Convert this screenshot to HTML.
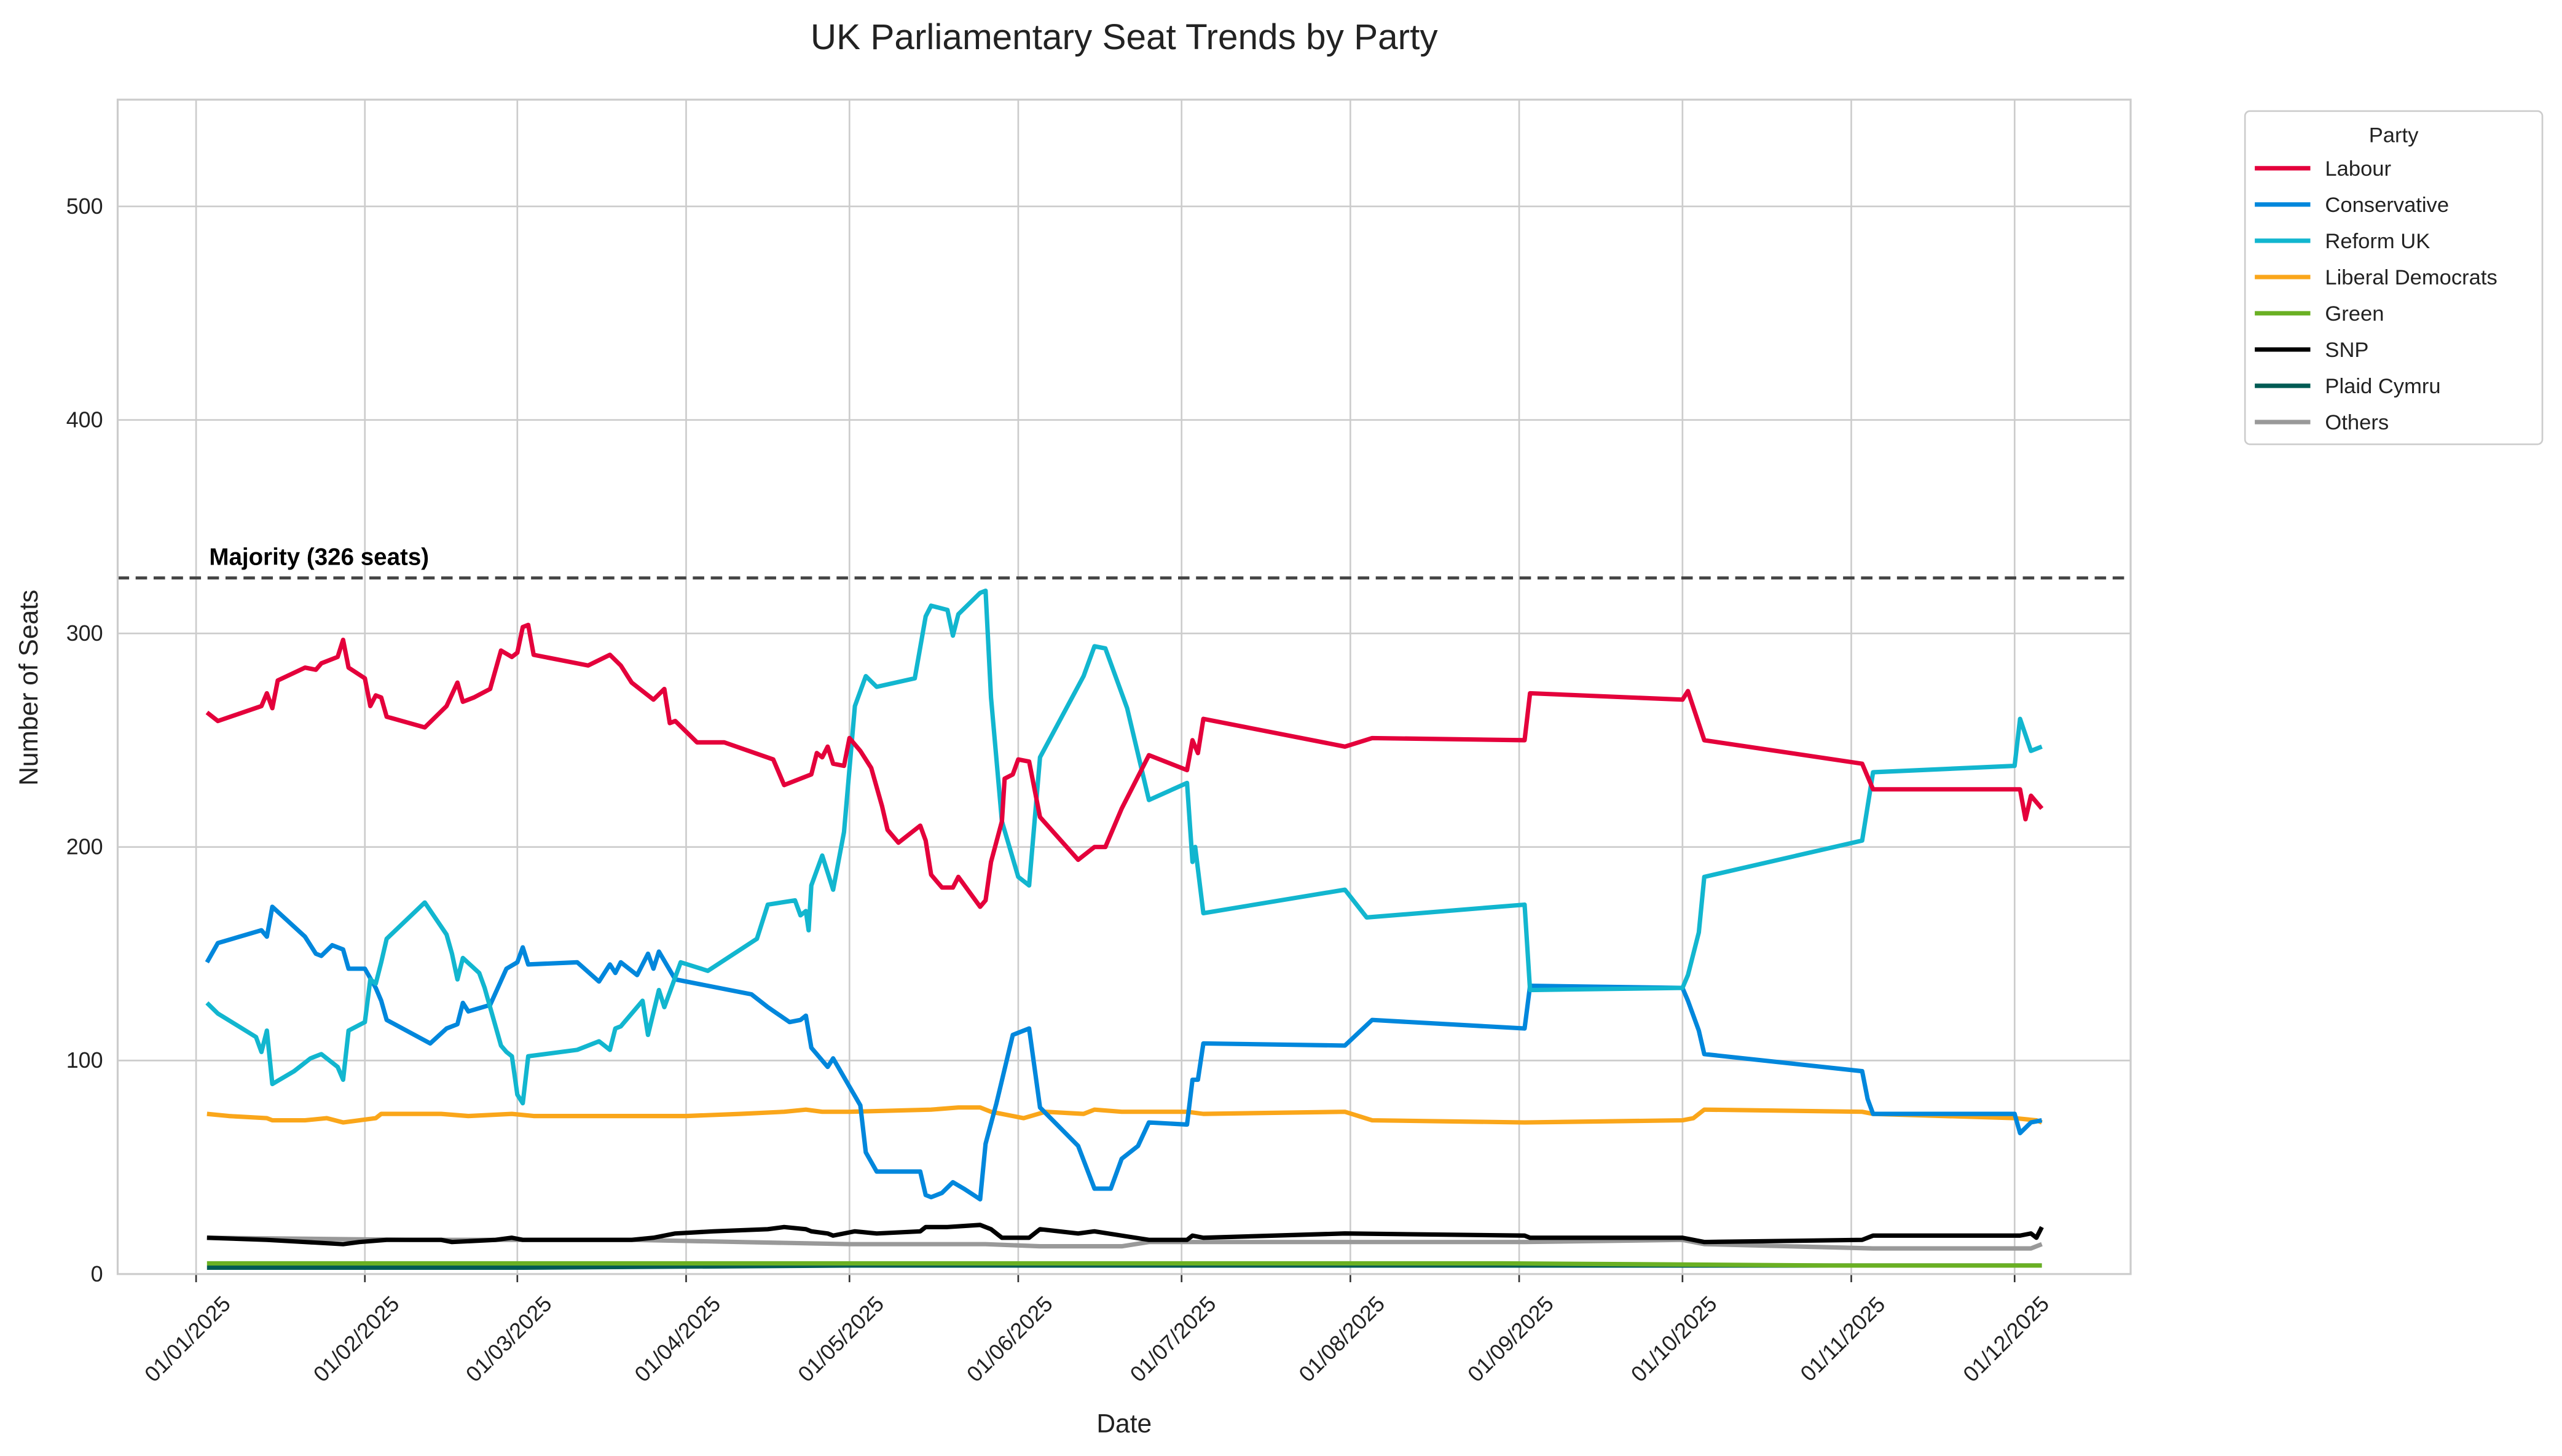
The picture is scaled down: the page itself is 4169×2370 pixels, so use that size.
<!DOCTYPE html>
<html><head><meta charset="utf-8"><style>html,body{margin:0;padding:0;background:#fff}svg{display:block}</style></head>
<body>
<svg id="chart" xmlns="http://www.w3.org/2000/svg" width="4169" height="2370" viewBox="0 0 1568 891.4" font-family="'Liberation Sans', sans-serif">
<rect x="0" y="0" width="1568" height="892" fill="#fff"/>
<text x="688" y="30" font-size="22" text-anchor="middle" fill="#222">UK Parliamentary Seat Trends by Party</text>
<g id="grid"></g>
<g id="series"></g>
<rect x="72" y="61" width="1232" height="719" fill="none" stroke="#cccccc" stroke-width="1.2"/>
<g id="ticks" font-size="13.5" fill="#222"></g>
<text transform="translate(23,421) rotate(-90)" font-size="16" text-anchor="middle" fill="#222">Number of Seats</text>
<text x="688" y="877" font-size="16" text-anchor="middle" fill="#222">Date</text>
<g>
<rect x="1374" y="68" width="182" height="204" rx="3" fill="#fff" stroke="#cccccc" stroke-width="1"/>
<text x="1465" y="87" font-size="13" text-anchor="middle" fill="#222">Party</text>
<g id="legend-entries"></g>
</g>
</svg>
<script>
const parties = ["Labour","Conservative","Reform UK","Liberal Democrats","Green","SNP","Plaid Cymru","Others"];
const colors = ["#e4003b","#0087dc","#12b6cf","#faa61a","#6ab023","#000000","#005b54","#999999"];
const yTicks = [0,100,200,300,400,500];
const xTickLabels = ["01/01/2025","01/02/2025","01/03/2025","01/04/2025","01/05/2025","01/06/2025","01/07/2025","01/08/2025","01/09/2025","01/10/2025","01/11/2025","01/12/2025"];
const xTickDays = [0,31,59,90,120,151,181,212,243,273,304,334];
const majority = 326;
const labourDays = [2,4,12,13,14,15,20,22,23,26,27,28,31,32,33,34,35,42,46,48,49,51,54,56,58,59,60,61,62,72,76,78,80,84,86,87,88,92,97,106,108,113,114,115,116,117,119,120,122,124,126,127,129,133,134,135,137,139,140,144,145,146,148,148.5,150,151,153,155,162,165,167,170,175,182,183,184,185,211,216,244,245,273,274,277,306,308,335,336,337,339];
const labourVals = [263,259,266,272,265,278,284,283,286,289,297,284,279,266,271,270,261,256,266,277,268,270,274,292,289,291,303,304,290,285,290,285,277,269,274,258,259,249,249,241,229,234,244,242,247,239,238,251,245,237,219,208,202,210,203,187,181,181,186,172,175,193,212,232,234,241,240,214,194,200,200,218,243,236,250,244,260,247,251,250,272,269,273,250,239,227,227,213,224,218];
const conDays = [2,4,12,13,14,20,22,23,25,27,28,31,33,34,35,43,46,48,49,50,54,57,59,60,61,70,74,76,77,78,81,83,84,85,88,102,105,109,111,112,113,116,117,122,123,125,133,134,135,137,139,141,144,145,147,150,153,155,162,165,168,170,173,175,182,183,184,185,211,216,244,245,273,274,276,277,306,307,308,334,335,337,339];
const conVals = [146,155,161,158,172,158,150,149,154,152,143,143,134,128,119,108,115,117,127,123,126,143,146,153,145,146,137,145,141,146,140,150,143,151,138,131,125,118,119,121,106,97,101,79,57,48,48,37,36,38,43,40,35,61,80,112,115,78,60,40,40,54,60,71,70,91,91,108,107,119,115,135,134,128,114,103,95,82,75,75,66,71,72];
const reformDays = [2,4,11,12,13,14,18,21,23,26,27,28,31,32,33,34,35,42,46,47,48,49,52,53,56,57,58,59,60,61,70,74,76,77,78,82,83,85,86,89,94,103,105,110,111,112,112.5,113,115,117,119,121,123,125,132,134,135,138,139,140,144,145,146,148,151,153,155,163,165,167,171,175,182,183,183.5,185,211,215,244,245,273,274,276,277,306,308,334,335,337,339];
const reformVals = [127,122,111,104,114,89,95,101,103,97,91,114,118,138,136,146,157,174,159,150,138,148,141,134,107,104,102,84,80,102,105,109,105,115,116,128,112,133,125,146,142,157,173,175,168,170,161,182,196,180,207,266,280,275,279,308,313,311,299,309,319,320,270,212,186,182,242,280,294,293,265,222,230,193,200,169,180,167,173,133,134,140,160,186,203,235,238,260,245,247];
const ldDays = [2,6,13,14,20,24,27,30,33,34,40,45,50,58,62,85,90,100,108,112,115,120,135,140,144,146,150,152,156,163,165,170,182,185,211,216,244,273,275,277,306,308,334,338,339];
const ldVals = [75,74,73,72,72,73,71,72,73,75,75,75,74,75,74,74,74,75,76,77,76,76,77,78,78,76,74,73,76,75,77,76,76,75,76,72,71,72,73,77,76,75,73,72,71];
const snpDays = [2,13,20,27,30,35,45,47,55,58,60,70,80,84,86,88,95,105,108,112,113,116,117,121,125,133,134,138,144,146,148,153,155,162,165,170,175,182,183,185,211,244,245,273,277,306,308,335,337,338,339];
const snpVals = [17,16,15,14,15,16,16,15,16,17,16,16,16,17,18,19,20,21,22,21,20,19,18,20,19,20,22,22,23,21,17,17,21,19,20,18,16,16,18,17,19,18,17,17,15,16,18,18,19,17,22];
const greenDays = [2,60,120,180,240,300,339];
const greenVals = [5,5,5,5,5,4,4];
const plaidDays = [2,60,120,180,240,300,339];
const plaidVals = [3,3,4,4,4,4,4];
const othersDays = [2,40,80,100,120,145,155,170,175,244,273,277,308,337,339];
const othersVals = [17,16,16,15,14,14,13,13,15,15,16,14,12,12,14];

const NS = "http://www.w3.org/2000/svg";
const X0 = 120, PX_PER_DAY = (1233-120)/334;
const Y0 = 780, PX_PER_SEAT = (780-61)/550;
function xs(d){return X0 + d*PX_PER_DAY;}
function ys(v){return Y0 - v*PX_PER_SEAT;}
function mk(tag, attrs, parent){const e=document.createElementNS(NS,tag);for(const k in attrs)e.setAttribute(k,attrs[k]);parent.appendChild(e);return e;}

const grid = document.getElementById('grid');
const ticks = document.getElementById('ticks');
yTicks.forEach(v=>{
  const l = mk('line',{x1:72,x2:1304,y1:ys(v),y2:ys(v),stroke:'#cccccc','stroke-width':1},grid);
  
  
  const t = mk('text',{x:63,y:ys(v)+4.5,'text-anchor':'end'},ticks);
  t.textContent = v;
  
  
});
xTickDays.forEach((d,i)=>{
  const l = mk('line',{x1:xs(d),x2:xs(d),y1:61,y2:780,stroke:'#cccccc','stroke-width':1},grid);
  
  
  const tk = mk('line',{x1:xs(d),x2:xs(d),y1:780,y2:785,stroke:'#333','stroke-width':1},grid);
  
  
  const t = mk('text',{transform:`translate(${xs(d)-2},${823}) rotate(-45)`,'text-anchor':'middle'},ticks);
  t.textContent = xTickLabels[i];
  
  
});

const series = document.getElementById('series');
const all = [[labourDays,labourVals],[conDays,conVals],[reformDays,reformVals],[ldDays,ldVals],[greenDays,greenVals],[snpDays,snpVals],[plaidDays,plaidVals],[othersDays,othersVals]];
const order = [7,6,4,5,3,1,2,0];
order.forEach(i=>{
  const [ds,vs] = all[i];
  const d = ds.map((dd,j)=>(j?'L':'M')+xs(dd).toFixed(2)+','+ys(vs[j]).toFixed(2)).join(' ');
  const p = mk('path',{d:d,fill:'none',stroke:colors[i],'stroke-width':2.7,'stroke-linejoin':'round'},series);
  
  
});
const ml = mk('line',{x1:72,x2:1304,y1:ys(majority),y2:ys(majority),stroke:'#444','stroke-width':1.9,'stroke-dasharray':'7,4'},series);


const mt = mk('text',{x:128,y:ys(majority)-8,'font-size':14.5,'font-weight':'bold',fill:'#000'},series);
mt.textContent = 'Majority (326 seats)';



const leg = document.getElementById('legend-entries');
parties.forEach((p,i)=>{
  const y = 103 + i*22.2;
  const g = mk('g',{},leg);
  
  
  mk('line',{x1:1380,x2:1414,y1:y,y2:y,stroke:colors[i],'stroke-width':2.7},g);
  const t = mk('text',{x:1423,y:y+4.5,'font-size':13,fill:'#222'},g);
  t.textContent = p;
});
</script>
</body></html>
